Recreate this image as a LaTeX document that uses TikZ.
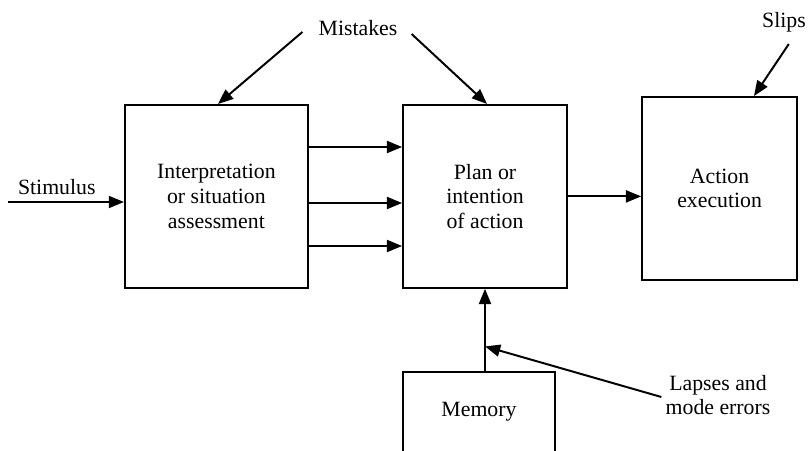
\documentclass[tikz,border=0pt]{standalone}
\usepackage{fontspec}
\setmainfont{Liberation Serif}
\usetikzlibrary{arrows.meta, positioning, calc}

\begin{document}
\begin{tikzpicture}[
    >=Triangle,
    box/.style={
        rectangle,
        draw=black,
        line width=1.3pt,
        fill=white,
        align=center,
        inner sep=0pt,
        minimum height=4.575cm,
        font=\fontsize{15.5}{17.5}\selectfont,
    },
    note/.style={
        align=center,
        inner sep=0pt,
        font=\fontsize{15.5}{17.5}\selectfont,
    },
    arrowline/.style={
        black,
        line width=1.4pt,
        -{Triangle[length=0.38cm, width=0.3cm]},
    },
]

% Canvas, the memory box runs off the bottom
\useasboundingbox (0,0) rectangle (20.2,11.25);
\clip (0,0) rectangle (20.2,11.25);

% Boxes
\node[box, minimum width=4.575cm] (interp) at (5.41,6.34) {Interpretation\\or situation\\assessment};
\node[box, minimum width=4.1cm] (plan) at (12.125,6.34) {Plan or\\intention\\of action};
\node[box, minimum width=3.875cm] (action) at (17.99,6.54) {Action\\execution};
\node[box, minimum width=3.8cm, minimum height=2.0cm] (memory) at (11.975,0.95) {Memory};

% Labels
\node[note] (stimulus) at (1.42,6.58) {Stimulus};
\node[note, inner xsep=0.35cm] (mistakes) at (8.95,10.55) {Mistakes};
\node[note] (slips) at (19.6,10.7) {Slips};
\node[note] (lapses) at (17.95,1.375) {Lapses and\\mode errors};

% Main flow
\coordinate (stim) at (0.2,6.2);
\draw[arrowline] (stim) -- (stim -| interp.west);
\foreach \y in {7.575,6.175,5.1}
    \draw[arrowline] (interp.east |- 0,\y) -- (plan.west |- 0,\y);
\draw[arrowline] (plan.east) -- (action.west |- plan.east);
\draw[arrowline] (memory.north -| plan.south) -- (plan.south);

% Error arrows
\draw[arrowline] ([xshift=-0.05cm, yshift=-0.1cm]mistakes.west) -- ([xshift=0.04cm]interp.north);
\draw[arrowline] ([yshift=-0.15cm]mistakes.east) -- ([xshift=0.05cm]plan.north);
\draw[arrowline] ([xshift=0.12cm, yshift=-0.55cm]slips.center) -- ([xshift=0.86cm]action.north);
\coordinate (join) at ($(plan.south)!0.7!(memory.north -| plan.south)$);
\draw[arrowline] ([xshift=-0.1cm, yshift=-0.05cm]lapses.west) -- (join);

\end{tikzpicture}
\end{document}
